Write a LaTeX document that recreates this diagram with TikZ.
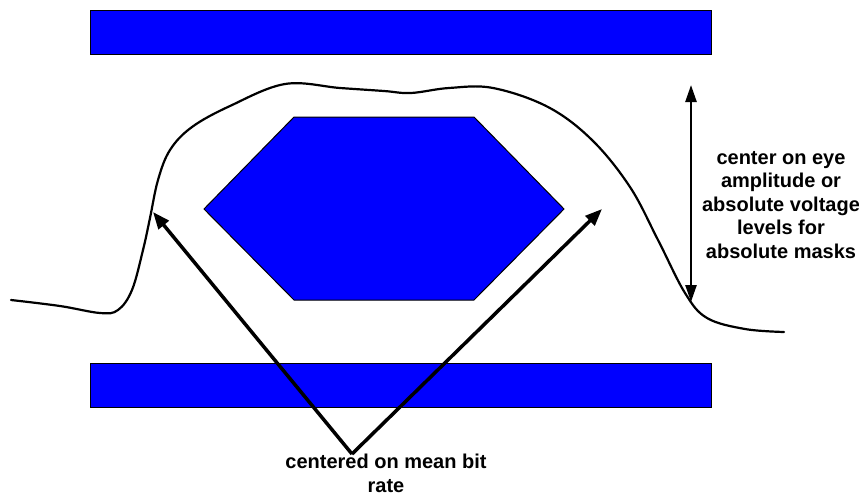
\documentclass[tikz,border=0pt]{standalone}
\usepackage{fontspec}
\setmainfont{Liberation Sans}
\usetikzlibrary{arrows.meta}
\definecolor{barblue}{RGB}{0,0,255}
\begin{document}
\begin{tikzpicture}[x=1pt,y=-1pt,
  bar/.style={draw=black,line width=1pt,fill=barblue},
  hexa/.style={draw=black,line width=1pt,fill=barblue},
  wave/.style={line width=2.2pt,line join=round,line cap=round},
  fatarrow/.style={line width=3.5pt,-{Triangle[length=17pt,width=13pt]}},
  dblarrow/.style={line width=2.5pt,{Triangle[length=17pt,width=11pt]}-{Triangle[length=17pt,width=11pt]}},
  lbl/.style={font=\bfseries\fontsize{20}{23.5}\selectfont,align=center,inner sep=0pt}]
\useasboundingbox (0,0) rectangle (859,498);
\fill[white] (0,0) rectangle (859,498);
% bars
\node[bar,minimum width=621pt,minimum height=44pt,inner sep=0pt] (topbar) at (400.5,32) {};
\node[bar,minimum width=621pt,minimum height=44pt,inner sep=0pt] (botbar) at (400.5,385) {};
% hexagon
\draw[hexa] (294,117) -- (474,117) -- (564,209) -- (474,300) -- (294,300) -- (204,209) -- cycle;
% waveform
\draw[wave] plot[smooth,tension=0.6] coordinates {
  (11,300) (60,306) (100,313) (118,310) (132,290) (143,250) (150,218) (158,180)
  (170,150) (192,127) (230,106) (285,84) (340,88) (384,91) (411,93) (449,88)
  (493,88) (548,107) (592,140) (630,187) (658,240) (685,293) (707,318) (745,329) (784,332)};
% eye amplitude arrow
\coordinate (atop) at (691,85);
\coordinate (abot) at (691,302);
\draw[dblarrow] (atop) -- (abot);
\node[lbl,anchor=base] (eyetext) at (781,258) {center on eye\\amplitude or\\absolute voltage\\levels for\\absolute masks};
% V arrows
\coordinate (apex) at (352,454);
\coordinate (ltip) at (153,212);
\coordinate (rtip) at (602,209);
\draw[fatarrow] (apex) -- (ltip);
\draw[fatarrow] (apex) -- (rtip);
\node[lbl,anchor=base] (meantext) at (386,492) {centered on mean bit\\rate};
\end{tikzpicture}
\end{document}
